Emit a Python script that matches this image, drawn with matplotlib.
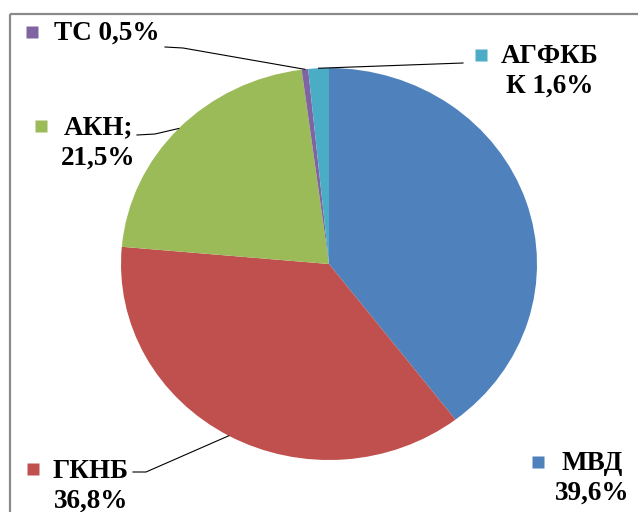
import numpy as np
import matplotlib
matplotlib.use("Agg")
import matplotlib.pyplot as plt
from matplotlib.patches import Rectangle

# data, clockwise from 12 o'clock
names = ["МВД", "ГКНБ", "АКН", "ТС", "АГФКБ"]
shares = [39.6, 36.8, 21.5, 0.5, 1.6]
label_texts = ["МВД\n39,6%", "ГКНБ\n36,8%", "АКН;\n21,5%", "ТС 0,5%", "АГФКБ\nК 1,6%"]
colors = ["#4F81BD", "#C0504D", "#9BBB59", "#8064A2", "#4BACC6"]

W, H = 638, 512
fig = plt.figure(figsize=(W / 100, H / 100), dpi=100)

# pie box in pixels (left, top, right, bottom)
pl, pt, pr, pb = 121, 68, 537, 460
ax = fig.add_axes([pl / W, 1 - pb / H, (pr - pl) / W, (pb - pt) / H])
ax.pie(shares, colors=colors, startangle=90, counterclock=False, radius=1,
       wedgeprops=dict(linewidth=0))
ax.set_aspect("auto")
ax.set_xlim(-1, 1)
ax.set_ylim(-1, 1)
ax.axis("off")

# overlay in pixel coords for frame, labels, leader lines
ov = fig.add_axes([0, 0, 1, 1], zorder=5)
ov.set_xlim(0, W)
ov.set_ylim(H, 0)
ov.axis("off")
ov.add_patch(Rectangle((10, 14), 700, 600, fill=False, edgecolor="#8a8a8a", lw=1.6))

font = dict(family="Liberation Serif", fontweight="bold", fontsize=19.5)

# label layout: square marker pos, text center, leader (start, elbow) or None
layout = {
    "МВД": ((538, 462), (592, 478), None),
    "ГКНБ": ((33, 469), (91, 486), ((133, 472), (146, 472))),
    "АКН": ((41, 126), (98, 143), ((137, 135), (155, 134))),
    "ТС": ((32, 32), (107, 33), ((165, 47), (183, 48))),
    "АГФКБ": ((481, 55), (550, 71), ((463, 63), (463, 63))),
}

cum = np.cumsum([0] + shares[:-1])
fr = (cum + np.array(shares) / 2) / sum(shares)
inv = ov.transData.inverted()
for i, n in enumerate(names):
    sq, tc, lead = layout[n]
    ov.plot(sq[0], sq[1], marker="s", ms=8, color=colors[i], mec="none")
    ov.text(tc[0], tc[1], label_texts[i], ha="center", va="center",
            linespacing=1.25, color="black", **font)
    if lead is not None:
        th = np.deg2rad(90 - fr[i] * 360)
        anc = inv.transform(ax.transData.transform((np.cos(th), np.sin(th))))
        ov.plot([lead[0][0], lead[1][0], anc[0]], [lead[0][1], lead[1][1], anc[1]],
                color="black", lw=0.8)

fig.savefig("out.png", dpi=100)
